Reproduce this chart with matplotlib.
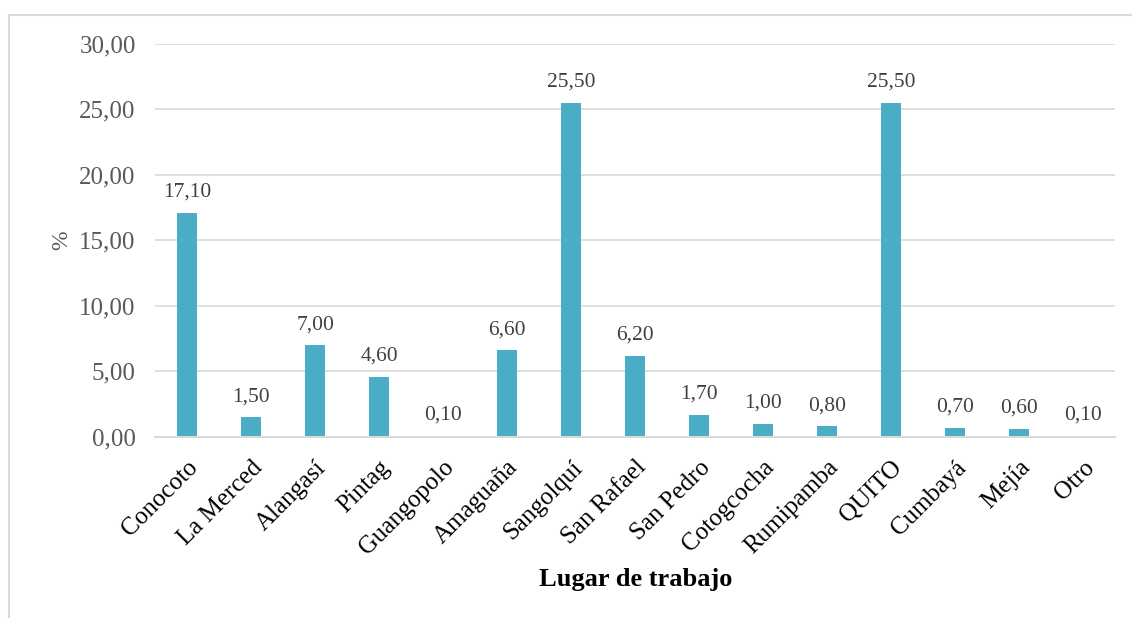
import numpy as np
import matplotlib.pyplot as plt
from matplotlib.patches import Rectangle
from matplotlib.ticker import FuncFormatter, MultipleLocator

lugares = ['Conocoto', 'La Merced', 'Alangasí', 'Pintag', 'Guangopolo', 'Amaguaña',
           'Sangolquí', 'San Rafael', 'San Pedro', 'Cotogcocha', 'Rumipamba', 'QUITO',
           'Cumbayá', 'Mejía', 'Otro']
porcentaje = [17.10, 1.50, 7.00, 4.60, 0.10, 6.60, 25.50, 6.20, 1.70, 1.00, 0.80,
              25.50, 0.70, 0.60, 0.10]

BAR = '#4BACC6'
GRID = '#D9D9D9'


def coma(v, _=None):
    return f'{v:.2f}'.replace('.', ',')


plt.rcParams['font.family'] = ['Liberation Serif', 'DejaVu Serif']

fig = plt.figure(figsize=(11.32, 6.18), dpi=100)
ax = fig.add_axes([0.137, 0.293, 0.848, 0.636])

x = np.arange(len(lugares))
bars = ax.bar(x, porcentaje, width=0.31, color=BAR, zorder=3)
for b, v in zip(bars, porcentaje):
    ax.annotate(coma(v), (b.get_x() + b.get_width() / 2, v), xytext=(0, 8),
                textcoords='offset points', ha='center', va='bottom',
                fontsize=15.5, color='#404040')

ax.set_xlim(-0.5, len(lugares) - 0.5)
ax.set_ylim(0, 30)
ax.yaxis.set_major_locator(MultipleLocator(5))
ax.yaxis.set_major_formatter(FuncFormatter(coma))
ax.grid(axis='y', color=GRID, linewidth=1.2, zorder=0)
for s in ['top', 'right', 'left']:
    ax.spines[s].set_visible(False)
ax.spines['bottom'].set_color(GRID)
ax.spines['bottom'].set_linewidth(1.5)
ax.spines['bottom'].set_zorder(4)

ax.set_xticks(x)
ax.set_xticklabels(lugares, rotation=45, ha='right', rotation_mode='anchor',
                   fontsize=18, color='black')
ax.tick_params(axis='x', length=0, pad=14)
ax.tick_params(axis='y', length=0, pad=14, labelsize=18, labelcolor='#595959')

ax.set_ylabel('%', fontsize=17, color='#595959', labelpad=5)
fig.text(0.562, 0.063, 'Lugar de trabajo', ha='center', va='center',
         fontsize=19, fontweight='bold')

fig.patches.append(Rectangle((9 / 1132, -0.1), 1.2, 1 - 15 / 618 + 0.1,
                             transform=fig.transFigure, fill=False,
                             edgecolor=GRID, linewidth=1.5))

fig.savefig('out.png', dpi=100)
